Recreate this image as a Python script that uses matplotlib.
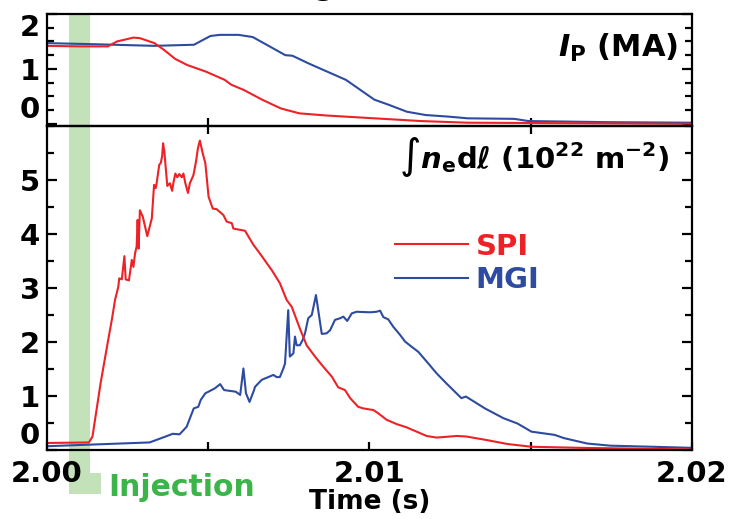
import matplotlib
matplotlib.use('Agg')
import matplotlib.pyplot as plt
from matplotlib.patches import Polygon
from matplotlib.ticker import MultipleLocator, FixedLocator
from matplotlib.transforms import blended_transform_factory

plt.rcParams['font.family'] = ['DejaVu Sans']
plt.rcParams['font.weight'] = 'bold'
plt.rcParams['mathtext.fontset'] = 'dejavusans'

# ---------------- data (time in ms after 2.00 s) ----------------
spi_ne_ms = [0.00, 1.30, 1.41, 1.52, 1.66, 1.88, 2.01, 2.11, 2.21, 2.24, 2.32, 2.40, 2.44, 2.54,
             2.63, 2.68, 2.73, 2.78, 2.81, 2.84, 2.88, 2.97, 3.11, 3.25, 3.32, 3.37, 3.40, 3.48,
             3.53, 3.57, 3.60, 3.64, 3.73, 3.81, 3.88, 3.92, 3.98, 4.04, 4.10, 4.18, 4.23, 4.29,
             4.37, 4.43, 4.54, 4.62, 4.68, 4.74, 4.83, 4.91, 5.01, 5.14, 5.26, 5.47, 5.57, 5.73,
             5.78, 6.14, 6.40, 6.60, 6.97, 7.22, 7.43, 7.59, 7.84, 8.05, 8.31, 8.57, 8.83, 9.03,
             9.24, 9.40, 9.65, 9.81, 10.12, 10.27, 10.53, 10.84, 11.15, 11.46, 11.77, 12.08,
             12.71, 13.00, 13.58, 14.29, 15.02, 16.53, 20.00]
spi_ne = [0.13, 0.14, 0.25, 0.68, 1.23, 1.98, 2.41, 2.78, 3.02, 3.18, 3.16, 3.59, 3.16, 3.14,
          3.52, 3.39, 3.64, 3.77, 4.26, 3.73, 4.44, 4.32, 3.96, 4.29, 4.91, 4.85, 4.94, 5.28,
          5.32, 5.44, 5.68, 5.52, 4.89, 4.94, 4.80, 4.95, 5.12, 5.05, 5.11, 5.05, 5.12, 4.94,
          4.76, 4.94, 5.09, 5.34, 5.59, 5.73, 5.49, 5.31, 4.69, 4.47, 4.46, 4.35, 4.23, 4.20,
          4.10, 4.06, 3.80, 3.64, 3.33, 3.09, 2.78, 2.65, 2.25, 1.94, 1.73, 1.54, 1.36, 1.16,
          1.11, 0.96, 0.80, 0.77, 0.74, 0.68, 0.56, 0.48, 0.42, 0.34, 0.26, 0.23,
          0.26, 0.25, 0.19, 0.11, 0.06, 0.04, 0.01]

mgi_ne_ms = [0.00, 3.18, 3.68, 3.90, 4.11, 4.33, 4.55, 4.69, 4.77, 4.91, 5.20, 5.37, 5.49, 5.85,
             5.99, 6.09, 6.17, 6.28, 6.42, 6.45, 6.66, 6.86, 7.02, 7.12, 7.22, 7.33, 7.38, 7.48,
             7.53, 7.64, 7.69, 7.74, 7.84, 7.93, 8.00, 8.10, 8.21, 8.34, 8.41, 8.52, 8.67, 8.78,
             8.93, 9.09, 9.19, 9.31, 9.45, 9.60, 10.02, 10.22, 10.33, 10.43, 10.58, 10.74, 10.95,
             11.10, 11.31, 11.51, 11.77, 12.08, 12.39, 12.85, 12.99, 13.58, 14.15, 14.59, 15.02,
             15.74, 16.03, 16.75, 17.47, 18.77, 20.00]
mgi_ne = [0.07, 0.14, 0.25, 0.30, 0.29, 0.43, 0.77, 0.80, 0.93, 1.05, 1.14, 1.22, 1.11, 1.08,
          1.02, 1.51, 1.05, 0.89, 1.11, 1.17, 1.30, 1.35, 1.39, 1.35, 1.35, 1.51, 1.60, 2.59,
          1.73, 1.79, 2.10, 1.94, 1.94, 2.04, 2.16, 2.44, 2.50, 2.87, 2.59, 2.15, 2.16, 2.22,
          2.41, 2.44, 2.47, 2.39, 2.53, 2.56, 2.55, 2.56, 2.58, 2.46, 2.42, 2.28, 2.13,
          2.01, 1.91, 1.82, 1.64, 1.42, 1.23, 0.96, 0.99, 0.77, 0.59, 0.49, 0.34,
          0.28, 0.22, 0.12, 0.08, 0.06, 0.04]

mgi_ip_ms = [0.00, 1.45, 3.33, 4.56, 4.78, 5.07, 5.36, 5.94, 6.38, 6.81, 7.39, 7.61, 8.11, 8.69,
             9.27, 9.71, 10.15, 10.58, 11.16, 11.74, 12.47, 13.04, 14.49, 14.93, 17.39, 20.00]
mgi_ip = [1.47, 1.45, 1.42, 1.44, 1.51, 1.60, 1.62, 1.62, 1.58, 1.44, 1.25, 1.24, 1.10, 0.95,
          0.80, 0.62, 0.44, 0.35, 0.22, 0.16, 0.13, 0.10, 0.09, 0.05, 0.03, 0.02]

spi_ip_ms = [0.00, 1.01, 1.89, 2.17, 2.68, 2.88, 3.33, 3.62, 3.98, 4.35, 4.93, 5.51, 5.72, 6.09,
             6.67, 7.25, 7.83, 8.69, 10.15, 11.60, 13.04, 20.00]
spi_ip = [1.42, 1.41, 1.41, 1.50, 1.57, 1.56, 1.47, 1.35, 1.18, 1.07, 0.95, 0.80, 0.71, 0.62,
          0.44, 0.28, 0.19, 0.15, 0.10, 0.05, 0.02, 0.00]

injection_start = 2.00068
injection_end = 2.00133
series_labels = ['SPI', 'MGI']

# ---------------- styling ----------------
RED = '#EC2227'
BLUE = '#2D4BA0'
GREEN_BAND = '#C3E2B9'
GREEN_TEXT = '#3BB54A'

def to_s(ms):
    return [2.0 + m / 1000.0 for m in ms]

fig = plt.figure(figsize=(7.31, 5.19), dpi=100)
W, H = 731.0, 519.0
left, right = 47 / W, 692 / W
ax_top = fig.add_axes([left, 1 - 126 / H, right - left, 112 / H])
ax_bot = fig.add_axes([left, 1 - 450 / H, right - left, 324 / H])

for ax in (ax_top, ax_bot):
    ax.set_facecolor('none')
    ax.set_xlim(2.0, 2.02)
    for sp in ax.spines.values():
        sp.set_linewidth(1.6)
    ax.tick_params(which='both', direction='in', width=1.6, left=True, right=True,
                   labelsize=21, pad=5)
    ax.tick_params(which='major', length=7.5)
    ax.tick_params(which='minor', length=5)

# top panel
ax_top.plot(to_s(mgi_ip_ms), mgi_ip, color=BLUE, lw=1.5)
ax_top.plot(to_s(spi_ip_ms), spi_ip, color=RED, lw=1.5)
ax_top.set_ylim(-0.04, 2.0)
ax_top.yaxis.set_major_locator(FixedLocator([0, 1, 2]))
ax_top.yaxis.set_minor_locator(MultipleLocator(0.25))
ax_top.set_yticklabels(['0', '1', '2'])
ax_top.xaxis.set_major_locator(FixedLocator([]))
ax_top.xaxis.set_minor_locator(FixedLocator([2.005, 2.015]))
ax_top.tick_params(axis='x', which='minor', bottom=True, top=False, length=6)
ax_top.text(0.978, 0.70, r'$\mathbfit{I}_{\mathbf{P}}$ (MA)', transform=ax_top.transAxes,
            ha='right', va='center', fontsize=22, fontweight='bold')

# bottom panel
ax_bot.plot(to_s(mgi_ne_ms), mgi_ne, color=BLUE, lw=1.5, label=series_labels[1])
ax_bot.plot(to_s(spi_ne_ms), spi_ne, color=RED, lw=1.5, label=series_labels[0])
ax_bot.set_ylim(0, 6.0)
ax_bot.yaxis.set_major_locator(FixedLocator([0, 1, 2, 3, 4, 5]))
ax_bot.yaxis.set_minor_locator(MultipleLocator(0.5))
ax_bot.set_yticklabels(['0', '1', '2', '3', '4', '5'])
ax_bot.xaxis.set_major_locator(FixedLocator([2.0, 2.01, 2.02]))
ax_bot.xaxis.set_minor_locator(FixedLocator([2.005, 2.015]))
ax_bot.set_xticklabels(['2.00', '2.01', '2.02'])
ax_bot.tick_params(axis='x', which='major', top=False, bottom=True, length=6, pad=7)
ax_bot.tick_params(axis='x', which='minor', top=True, bottom=True, length=6)
ax_bot.set_xlabel('Time (s)', fontsize=19, fontweight='bold', labelpad=1)

ax_bot.text(0.965, 0.905,
            '∫' + r'$\mathbfit{n}_{\mathbf{e}}$' + 'dℓ (10' + r'$^{\mathbf{22}}$' + ' m' +
            r'$^{\mathbf{-2}}$' + ')',
            transform=ax_bot.transAxes, ha='right', va='center', fontsize=21, fontweight='bold')

handles, labels = ax_bot.get_legend_handles_labels()
leg = ax_bot.legend(handles[::-1], labels[::-1], loc='upper left',
                    bbox_to_anchor=(0.540, 0.671), frameon=False,
                    prop={'weight': 'bold', 'size': 21}, handlelength=2.5,
                    handletextpad=0.25, labelspacing=0.18, borderpad=0, borderaxespad=0,
                    labelcolor='linecolor')

# tick-label vertical adjustments
ax_bot.get_yticklabels()[0].set_va('bottom')
ax_top.get_yticklabels()[0].set_va('bottom')
ax_top.get_yticklabels()[2].set_va('top')

# injection band (L shape), behind everything
trans = blended_transform_factory(ax_bot.transData, fig.transFigure)
foot_end = injection_end + 0.00034
band = Polygon([(injection_start, 1 - 14 / H), (injection_end, 1 - 14 / H),
                (injection_end, 1 - 473 / H), (foot_end, 1 - 473 / H),
                (foot_end, 1 - 494 / H), (injection_start, 1 - 494 / H)],
               closed=True, transform=trans, facecolor=GREEN_BAND, edgecolor='none',
               zorder=-1)
fig.add_artist(band)
fig.text(108 / W, 1 - 487 / H, 'Injection', color=GREEN_TEXT, fontsize=21.5,
         fontweight='bold', ha='left', va='center')

# clipped title glyph at the very top
fig.text(324 / W, 1 + 5 / H, 'g', fontsize=21, fontweight='bold', ha='center',
         va='baseline')

fig.savefig('out.png', dpi=100)
